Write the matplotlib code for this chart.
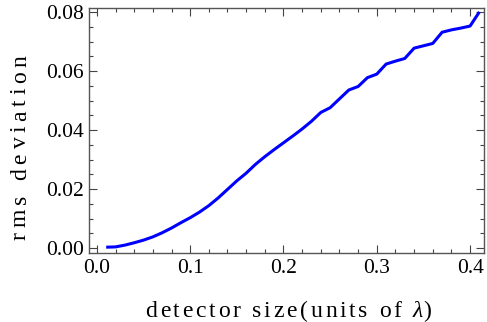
import matplotlib
matplotlib.use('Agg')
import matplotlib.pyplot as plt
from matplotlib.ticker import MultipleLocator

# detector size (units of lambda) and rms deviation
size = [0.01, 0.02, 0.03, 0.04, 0.05, 0.06, 0.07, 0.08, 0.09, 0.10,
        0.11, 0.12, 0.13, 0.14, 0.15, 0.16, 0.17, 0.18, 0.19, 0.20,
        0.21, 0.22, 0.23, 0.24, 0.25, 0.26, 0.27, 0.28, 0.29, 0.30,
        0.31, 0.32, 0.33, 0.34, 0.35, 0.36, 0.37, 0.38, 0.39, 0.40, 0.41]
rms = [0.0003, 0.0004, 0.0010, 0.0018, 0.0027, 0.0038, 0.0052, 0.0068, 0.0086, 0.0103,
       0.0122, 0.0144, 0.0170, 0.0199, 0.0228, 0.0254, 0.0284, 0.0310, 0.0334, 0.0357,
       0.0380, 0.0404, 0.0430, 0.0460, 0.0476, 0.0506, 0.0536, 0.0548, 0.0578, 0.0590,
       0.0624, 0.0634, 0.0643, 0.0678, 0.0686, 0.0694, 0.0732, 0.0740, 0.0746, 0.0753, 0.0801]

xlabel = 'detector size(units of λ)'
ylabel = 'rms deviation'

plt.rcParams['font.family'] = ['Liberation Serif', 'DejaVu Serif']

W, H = 487, 322
fig = plt.figure(figsize=(W / 100, H / 100), dpi=100)
ax = fig.add_axes([0.183, 0.214, 0.811, 0.761])

ax.plot(size, rms, color='#0000ff', lw=2.2, solid_capstyle='butt')

ax.set_xlim(-0.0083, 0.415)
ax.set_ylim(-0.0017, 0.0814)
ax.xaxis.set_major_locator(MultipleLocator(0.1))
ax.xaxis.set_minor_locator(MultipleLocator(0.02))
ax.yaxis.set_major_locator(MultipleLocator(0.02))
ax.yaxis.set_minor_locator(MultipleLocator(0.005))
ax.xaxis.set_major_formatter(lambda v, p: '%.1f' % v)
ax.yaxis.set_major_formatter(lambda v, p: '%.2f' % v)

ax.tick_params(which='both', direction='in', top=True, right=True,
               labelsize=15.5, color='#444444', width=0.8, pad=4)
ax.tick_params(which='major', length=6)
ax.tick_params(which='minor', length=3)
for s in ax.spines.values():
    s.set_color('#555555')
    s.set_linewidth(1.0)


def spaced_label(s, start, end, base, fs, vertical=False, italic='λ'):
    # lay out characters one by one with extra tracking between them
    r = fig.canvas.get_renderer()

    def width(txt, style):
        t = fig.text(0, 0, txt, fontsize=fs, style=style)
        w = t.get_window_extent(r).width
        t.remove()
        return w

    ref = width('xx', 'normal')
    styles = ['italic' if c in italic else 'normal' for c in s]
    adv = [width('x' + c + 'x', st) - ref for c, st in zip(s, styles)]
    gap = (abs(end - start) - sum(adv)) / (len(s) - 1)
    pos = start
    for c, a, st in zip(s, adv, styles):
        if vertical:
            fig.text(base / W, 1 - pos / H, c, fontsize=fs, style=st,
                     rotation=90, rotation_mode='anchor',
                     ha='left', va='baseline')
            pos -= a + gap
        else:
            fig.text(pos / W, 1 - base / H, c, fontsize=fs, style=st,
                     ha='left', va='baseline')
            pos += a + gap


spaced_label(xlabel, 145, 431, 317, 17)
spaced_label(ylabel, 240, 55, 26, 17, vertical=True)

fig.savefig('out.png', dpi=100)
